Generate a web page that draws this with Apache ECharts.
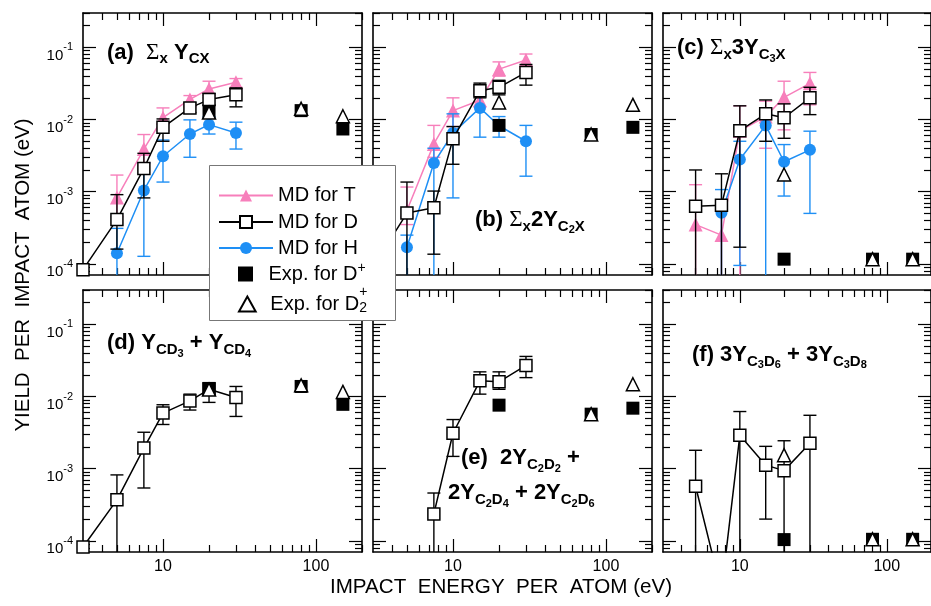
<!DOCTYPE html>
<html><head><meta charset="utf-8">
<script src="https://cdn.jsdelivr.net/npm/echarts@6/dist/echarts.min.js"></script>
<style>html,body{margin:0;padding:0;background:#fff}#c{width:931px;height:606px}</style>
</head><body><div id="c"></div>
<script>
// ---------------- data ----------------
const mdEnergy  = [3, 5, 7.5, 10, 15, 20, 30];
const expEnergy = [20, 80, 150];
const xMajorTicks = [10, 100];
const xMinorTicks = [4, 5, 6, 7, 8, 9, 20, 30, 40, 50, 60, 70, 80, 90, 200];
const yMajorTicks = [1e-4, 1e-3, 1e-2, 1e-1];
const yMinorTicks = [8e-5, 9e-5,
  2e-4, 3e-4, 4e-4, 5e-4, 6e-4, 7e-4, 8e-4, 9e-4,
  2e-3, 3e-3, 4e-3, 5e-3, 6e-3, 7e-3, 8e-3, 9e-3,
  2e-2, 3e-2, 4e-2, 5e-2, 6e-2, 7e-2, 8e-2, 9e-2,
  2e-1, 3e-1];
const legendNames = ['MD for T', 'MD for D', 'MD for H', 'Exp. for D+', 'Exp. for D2+'];

// (a) sum_x Y_CX
const a_T = [null, 8.3e-4, 3.9e-3, 1.06e-2, 1.9e-2, 2.66e-2, 3.28e-2];
const a_T_err = [null, [4.5e-4, 1.7e-3], [2.5e-3, 6.2e-3], [7e-3, 1.45e-2], [1.5e-2, 2.15e-2], [2.0e-2, 3.4e-2], [2.8e-2, 3.7e-2]];
const a_D = [8.3e-5, 4.1e-4, 2.1e-3, 7.8e-3, 1.45e-2, 1.89e-2, 2.2e-2];
const a_D_err = [null, [1.6e-4, 9.1e-4], [8.2e-4, 3.4e-3], [5.0e-3, 1.02e-2], [1.25e-2, 1.7e-2], [1.6e-2, 2.3e-2], [1.5e-2, 2.75e-2]];
const a_H = [null, 1.4e-4, 1.04e-3, 3.1e-3, 6.3e-3, 8.5e-3, 6.5e-3];
const a_H_err = [null, [1e-5, 3.1e-4], [1.27e-4, 2.5e-3], [1.36e-3, 5.2e-3], [3.0e-3, 9.9e-3], [6.3e-3, 1.1e-2], [3.9e-3, 9.2e-3]];
const a_expDp  = [1.29e-2, 1.33e-2, 7.4e-3];
const a_expD2p = [1.25e-2, 1.41e-2, 1.11e-2];

// (b) sum_x 2Y_C2X
const b_T = [null, 5.5e-4, 4.6e-3, 1.33e-2, 1.85e-2, 5.0e-2, 6.7e-2];
const b_T_err = [null, [3.5e-4, 1.16e-3], [3.0e-3, 8.3e-3], [8e-3, 2.0e-2], [1.5e-2, 2.3e-2], [4e-2, 6.3e-2], [5.5e-2, 8.1e-2]];
const b_D = [9e-5, 5.06e-4, 6.0e-4, 5.4e-3, 2.5e-2, 2.8e-2, 4.5e-2];
const b_D_err = [null, [1e-5, 1.36e-3], [1.36e-4, 1.02e-3], [2.4e-3, 8.0e-3], [2.0e-2, 3.2e-2], [2.2e-2, 3.5e-2], [3.0e-2, 5.8e-2]];
const b_H = [null, 1.7e-4, 2.5e-3, 6.5e-3, 1.45e-2, 8.2e-3, 5.0e-3];
const b_H_err = [null, [1e-5, 2.5e-4], [1e-5, 4e-3], [8.2e-4, 1.2e-2], [5.7e-3, 2.2e-2], [5.7e-3, 1.1e-2], [1.64e-3, 8.3e-3]];
const b_expDp  = [8.3e-3, 6.2e-3, 7.8e-3];
const b_expD2p = [1.73e-2, 6.2e-3, 1.6e-2];

// (c) sum_x 3Y_C3X
const c_T = [null, 3.5e-4, 2.5e-4, 7e-3, 1.1e-2, 2.03e-2, 3.18e-2];
const c_T_err = [null, [1e-5, 1.25e-3], [1e-5, 6e-4], [1e-5, 1.55e-2], [4.0e-3, 1.8e-2], [7.2e-3, 3.4e-2], [1.6e-2, 4.5e-2]];
const c_D = [null, 6.3e-4, 6.5e-4, 7.0e-3, 1.2e-2, 1.06e-2, 2.0e-2];
const c_D_err = [null, [1e-5, 2.0e-3], [1e-5, 1.77e-3], [1.7e-4, 1.55e-2], [5.0e-3, 1.87e-2], [5.5e-3, 1.65e-2], [1.17e-2, 2.8e-2]];
const c_H = [null, null, 5.1e-4, 2.8e-3, 8.3e-3, 2.6e-3, 3.8e-3];
const c_H_err = [null, null, [1e-5, 1.07e-3], [9.5e-5, 5e-3], [1e-5, 1.2e-2], [8.7e-4, 4.5e-3], [5.0e-4, 6.9e-3]];
const c_expDp  = [1.16e-4, 1.16e-4, 1.16e-4];
const c_expD2p = [1.73e-3, 1.16e-4, 1.16e-4];

// (d) Y_CD3 + Y_CD4
const d_D = [8.2e-5, 3.7e-4, 1.93e-3, 5.9e-3, 8.7e-3, 1.26e-2, 9.7e-3];
const d_D_err = [null, [1e-5, 8.2e-4], [5.4e-4, 3.2e-3], [4.1e-3, 7.7e-3], [6.5e-3, 1.08e-2], [8.3e-3, 1.56e-2], [5.3e-3, 1.38e-2]];
const d_expDp  = [1.29e-2, 1.38e-2, 7.8e-3];
const d_expD2p = [1.25e-2, 1.43e-2, 1.16e-2];

// (e) 2Y_C2D2 + 2Y_C2D4 + 2Y_C2D6
const e_D = [null, null, 2.36e-4, 3.1e-3, 1.65e-2, 1.6e-2, 2.7e-2];
const e_D_err = [null, null, [1e-5, 4.6e-4], [1.48e-3, 4.8e-3], [1.08e-2, 2.2e-2], [1.26e-2, 2.2e-2], [1.83e-2, 3.6e-2]];
const e_expDp  = [7.6e-3, 5.7e-3, 6.9e-3];
const e_expD2p = [null, 5.7e-3, 1.48e-2];

// (f) 3Y_C3D6 + 3Y_C3D8
const f_D = [null, 5.7e-4, 2e-5, 2.9e-3, 1.12e-3, 9.4e-4, 2.26e-3];
const f_D_err = [null, [1e-5, 1.8e-3], null, [1e-5, 6.2e-3], [2.0e-4, 2.04e-3], [1e-5, 2.44e-3], [1e-5, 5.5e-3]];
const f_expDp  = [1.04e-4, 1.05e-4, 1.05e-4];
const f_expD2p = [1.54e-3, 1.05e-4, 1.05e-4];

// ---------------- layout / style ----------------
const FONT = '"Liberation Sans", Arial, Helvetica, sans-serif';
const PINK = '#f77fbb';
const BLUE = '#1e8ff5';
const XMIN = 3, XMAX = 200, YMIN = 7e-5, YMAX = 0.3;
const GRIDS = [
  {left: 83, top: 13}, {left: 373, top: 13}, {left: 663, top: 13},
  {left: 83, top: 290}, {left: 373, top: 290}, {left: 663, top: 290}
];
const GW = 279, GH = 262;

const panels = [
  {T: a_T, Terr: a_T_err, H: a_H, Herr: a_H_err, D: a_D, Derr: a_D_err, Dp: a_expDp, D2p: a_expD2p},
  {T: b_T, Terr: b_T_err, H: b_H, Herr: b_H_err, D: b_D, Derr: b_D_err, Dp: b_expDp, D2p: b_expD2p},
  {T: c_T, Terr: c_T_err, H: c_H, Herr: c_H_err, D: c_D, Derr: c_D_err, Dp: c_expDp, D2p: c_expD2p},
  {D: d_D, Derr: d_D_err, Dp: d_expDp, D2p: d_expD2p},
  {D: e_D, Derr: e_D_err, Dp: e_expDp, D2p: e_expD2p},
  {D: f_D, Derr: f_D_err, Dp: f_expDp, D2p: f_expD2p}
];

function pairs(xs, ys) {
  return xs.map((x, i) => [x, ys[i]]).filter(p => p[1] != null);
}
function errRows(xs, errs) {
  return xs.map((x, i) => errs[i] ? [x, errs[i][0], errs[i][1]] : null).filter(Boolean);
}

function makeX(g, pos, major) {
  return {
    type: 'log', gridIndex: g, min: XMIN, max: XMAX, position: pos,
    axisLine: {show: major, onZero: false, lineStyle: {color: '#000', width: 1.6}},
    axisTick: {show: true, inside: true, length: major ? 13 : 7,
      customValues: major ? xMajorTicks : xMinorTicks,
      lineStyle: {color: '#000', width: 1.2}},
    axisLabel: {show: major && pos === 'bottom' && g >= 3, customValues: xMajorTicks,
      margin: 7, fontSize: 16, color: '#000', fontFamily: FONT,
      formatter: v => String(Math.round(v))},
    splitLine: {show: false}
  };
}
function makeY(g, pos, major) {
  return {
    type: 'log', gridIndex: g, min: YMIN, max: YMAX, position: pos,
    axisLine: {show: major, onZero: false, lineStyle: {color: '#000', width: 1.6}},
    axisTick: {show: true, inside: true, length: major ? 13 : 7,
      customValues: major ? yMajorTicks : yMinorTicks,
      lineStyle: {color: '#000', width: 1.2}},
    axisLabel: {show: major && pos === 'left' && (g === 0 || g === 3), customValues: yMajorTicks,
      margin: 10, color: '#000', fontFamily: FONT,
      formatter: v => '{b|10}{sup|' + Math.round(Math.log10(v)) + '}',
      rich: {
        b: {fontSize: 15, fontFamily: FONT, color: '#000', padding: [16, 0, 0, 0]},
        sup: {fontSize: 11, fontFamily: FONT, color: '#000'}
      }},
    splitLine: {show: false}
  };
}

const grid = [], xAxis = [], yAxis = [], series = [];
GRIDS.forEach((r, g) => {
  grid.push({left: r.left, top: r.top, width: GW, height: GH, containLabel: false});
  xAxis.push(makeX(g, 'bottom', true), makeX(g, 'bottom', false), makeX(g, 'top', true), makeX(g, 'top', false));
  yAxis.push(makeY(g, 'left', true), makeY(g, 'left', false), makeY(g, 'right', true), makeY(g, 'right', false));
});

function errSeries(g, rows, color, z) {
  return {
    type: 'custom', xAxisIndex: 4 * g, yAxisIndex: 4 * g, z: z, silent: true,
    data: rows,
    encode: {x: 0, y: [1, 2]},
    renderItem: function (params, api) {
      const cs = params.coordSys;
      const x = api.value(0);
      const pLo = api.coord([x, api.value(1)]);
      const pHi = api.coord([x, api.value(2)]);
      const top = cs.y, bottom = cs.y + cs.height;
      const cx = pLo[0];
      const yLo = Math.min(pLo[1], bottom);
      const yHi = Math.max(pHi[1], top);
      const st = {stroke: color, lineWidth: 1.4};
      const ch = [{type: 'line', shape: {x1: cx, y1: yHi, x2: cx, y2: yLo}, style: st}];
      const hw = 6.5;
      if (pHi[1] >= top) ch.push({type: 'line', shape: {x1: cx - hw, y1: pHi[1], x2: cx + hw, y2: pHi[1]}, style: st});
      if (pLo[1] <= bottom) ch.push({type: 'line', shape: {x1: cx - hw, y1: pLo[1], x2: cx + hw, y2: pLo[1]}, style: st});
      return {type: 'group', children: ch};
    }
  };
}

panels.forEach((p, g) => {
  const ax = {xAxisIndex: 4 * g, yAxisIndex: 4 * g};
  if (p.T) {
    series.push(Object.assign({type: 'line', name: legendNames[0], data: pairs(mdEnergy, p.T),
      symbol: 'triangle', symbolSize: 14, z: 3,
      itemStyle: {color: PINK}, lineStyle: {color: PINK, width: 1.5}}, ax));
    series.push(errSeries(g, errRows(mdEnergy, p.Terr), PINK, 2));
  }
  if (p.H) {
    series.push(Object.assign({type: 'line', name: legendNames[2], data: pairs(mdEnergy, p.H),
      symbol: 'circle', symbolSize: 12, z: 5,
      itemStyle: {color: BLUE}, lineStyle: {color: BLUE, width: 1.5}}, ax));
    series.push(errSeries(g, errRows(mdEnergy, p.Herr), BLUE, 4));
  }
  series.push(Object.assign({type: 'line', name: legendNames[1], data: pairs(mdEnergy, p.D),
    symbol: 'rect', symbolSize: 12, z: 7,
    itemStyle: {color: '#fff', borderColor: '#000', borderWidth: 1.5},
    lineStyle: {color: '#000', width: 1.5}}, ax));
  series.push(errSeries(g, errRows(mdEnergy, p.Derr), '#000', 6));
  series.push(Object.assign({type: 'scatter', name: legendNames[3], data: pairs(expEnergy, p.Dp),
    symbol: 'rect', symbolSize: 13, z: 8, itemStyle: {color: '#000', opacity: 1}}, ax));
  series.push(Object.assign({type: 'scatter', name: legendNames[4], data: pairs(expEnergy, p.D2p),
    symbol: 'triangle', symbolSize: 13, z: 9,
    itemStyle: {color: '#fff', borderColor: '#000', borderWidth: 1.5, opacity: 1}}, ax));
});

// rich text styles for panel labels
const LH = 30;
const RICH = {
  b:  {fontSize: 22, fontWeight: 'bold', fontFamily: FONT, fill: '#000', lineHeight: LH},
  sig:{fontSize: 23, fontWeight: 'normal', fontFamily: '"Liberation Serif", "Times New Roman", serif', fill: '#000', lineHeight: LH},
  s:  {fontSize: 15, fontWeight: 'bold', fontFamily: FONT, fill: '#000', lineHeight: LH, padding: [13, 0, 0, 0]},
  ss: {fontSize: 11, fontWeight: 'bold', fontFamily: FONT, fill: '#000', lineHeight: LH, padding: [21, 0, 0, 0]}
};
function label(x, baseline, text) {
  return {type: 'text', x: x, y: baseline - 6.8, z: 30,
    style: {text: text, rich: RICH, align: 'left', verticalAlign: 'middle'}};
}

// ---- legend: one legend component per row, inside a framed box ----
const SQUARE_ICON = 'path://M0,0L10,0L10,10L0,10Z';
const TRI_ICON = 'path://M5,0L10,9L0,9Z';
const LEGEND_ROWS = [
  {top: 185.5, left: 218, w: 54},
  {top: 212, left: 218, w: 54},
  {top: 238, left: 218, w: 54},
  {top: 261, left: 238, w: 36, icon: SQUARE_ICON},
  {top: 285, left: 238, w: 36, icon: TRI_ICON}
];
const legendText = {
  fontSize: 20, fontFamily: FONT, color: '#000', lineHeight: 20,
  rich: {
    sup:  {fontSize: 14, fontFamily: FONT, color: '#000', lineHeight: 20, padding: [0, 0, 12, 0]},
    sub:  {fontSize: 14, fontFamily: FONT, color: '#000', lineHeight: 20, padding: [8, 0, 0, 0], width: 0.01},
    sup2: {fontSize: 14, fontFamily: FONT, color: '#000', lineHeight: 20, padding: [0, 0, 24, 0]}
  }
};
function legendFormatter(n) {
  if (n === legendNames[3]) return 'Exp. for D{sup|+}';
  if (n === legendNames[4]) return 'Exp. for D{sub|2}{sup2|+}';
  return n;
}
const legends = LEGEND_ROWS.map((r, i) => ({
  z: 20, orient: 'vertical', left: r.left, top: r.top, padding: 0,
  itemWidth: r.w, itemHeight: 15, selectedMode: false,
  data: [r.icon ? {name: legendNames[i], icon: r.icon} : {name: legendNames[i]}],
  formatter: legendFormatter, textStyle: legendText
}));

const option = {
  animation: false,
  backgroundColor: '#fff',
  grid: grid, xAxis: xAxis, yAxis: yAxis, series: series,
  legend: legends,
  graphic: [
    {type: 'rect', z: 15, shape: {x: 209.5, y: 165.5, width: 186, height: 155},
      style: {fill: '#fff', stroke: '#777', lineWidth: 1}},
    label(107, 59.3, '{b|(a)  }{sig|Σ}{s|x}{b| Y}{s|CX}'),
    label(475, 226.7, '{b|(b) }{sig|Σ}{s|x}{b|2Y}{s|C}{ss|2}{s|X}'),
    label(677, 55, '{b|(c) }{sig|Σ}{s|x}{b|3Y}{s|C}{ss|3}{s|X}'),
    label(107, 350, '{b|(d) Y}{s|CD}{ss|3}{b| + Y}{s|CD}{ss|4}'),
    label(461, 465, '{b|(e)  2Y}{s|C}{ss|2}{s|D}{ss|2}{b| +}'),
    label(448, 500, '{b|2Y}{s|C}{ss|2}{s|D}{ss|4}{b| + 2Y}{s|C}{ss|2}{s|D}{ss|6}'),
    label(692, 361.7, '{b|(f) 3Y}{s|C}{ss|3}{s|D}{ss|6}{b| + 3Y}{s|C}{ss|3}{s|D}{ss|8}'),
    {type: 'text', x: 501, y: 587, z: 30,
      style: {text: 'IMPACT  ENERGY  PER  ATOM (eV)', fontSize: 20.6, fontFamily: FONT, fill: '#000',
        align: 'center', verticalAlign: 'middle'}},
    {type: 'text', x: 23.5, y: 275, rotation: Math.PI / 2, z: 30,
      style: {text: 'YIELD  PER  IMPACT  ATOM (eV)', fontSize: 20.5, fontFamily: FONT, fill: '#000',
        align: 'center', verticalAlign: 'middle'}}
  ]
};

const chart = echarts.init(document.getElementById('c'), null, {renderer: 'canvas'});
chart.setOption(option);
</script>
</body></html>
